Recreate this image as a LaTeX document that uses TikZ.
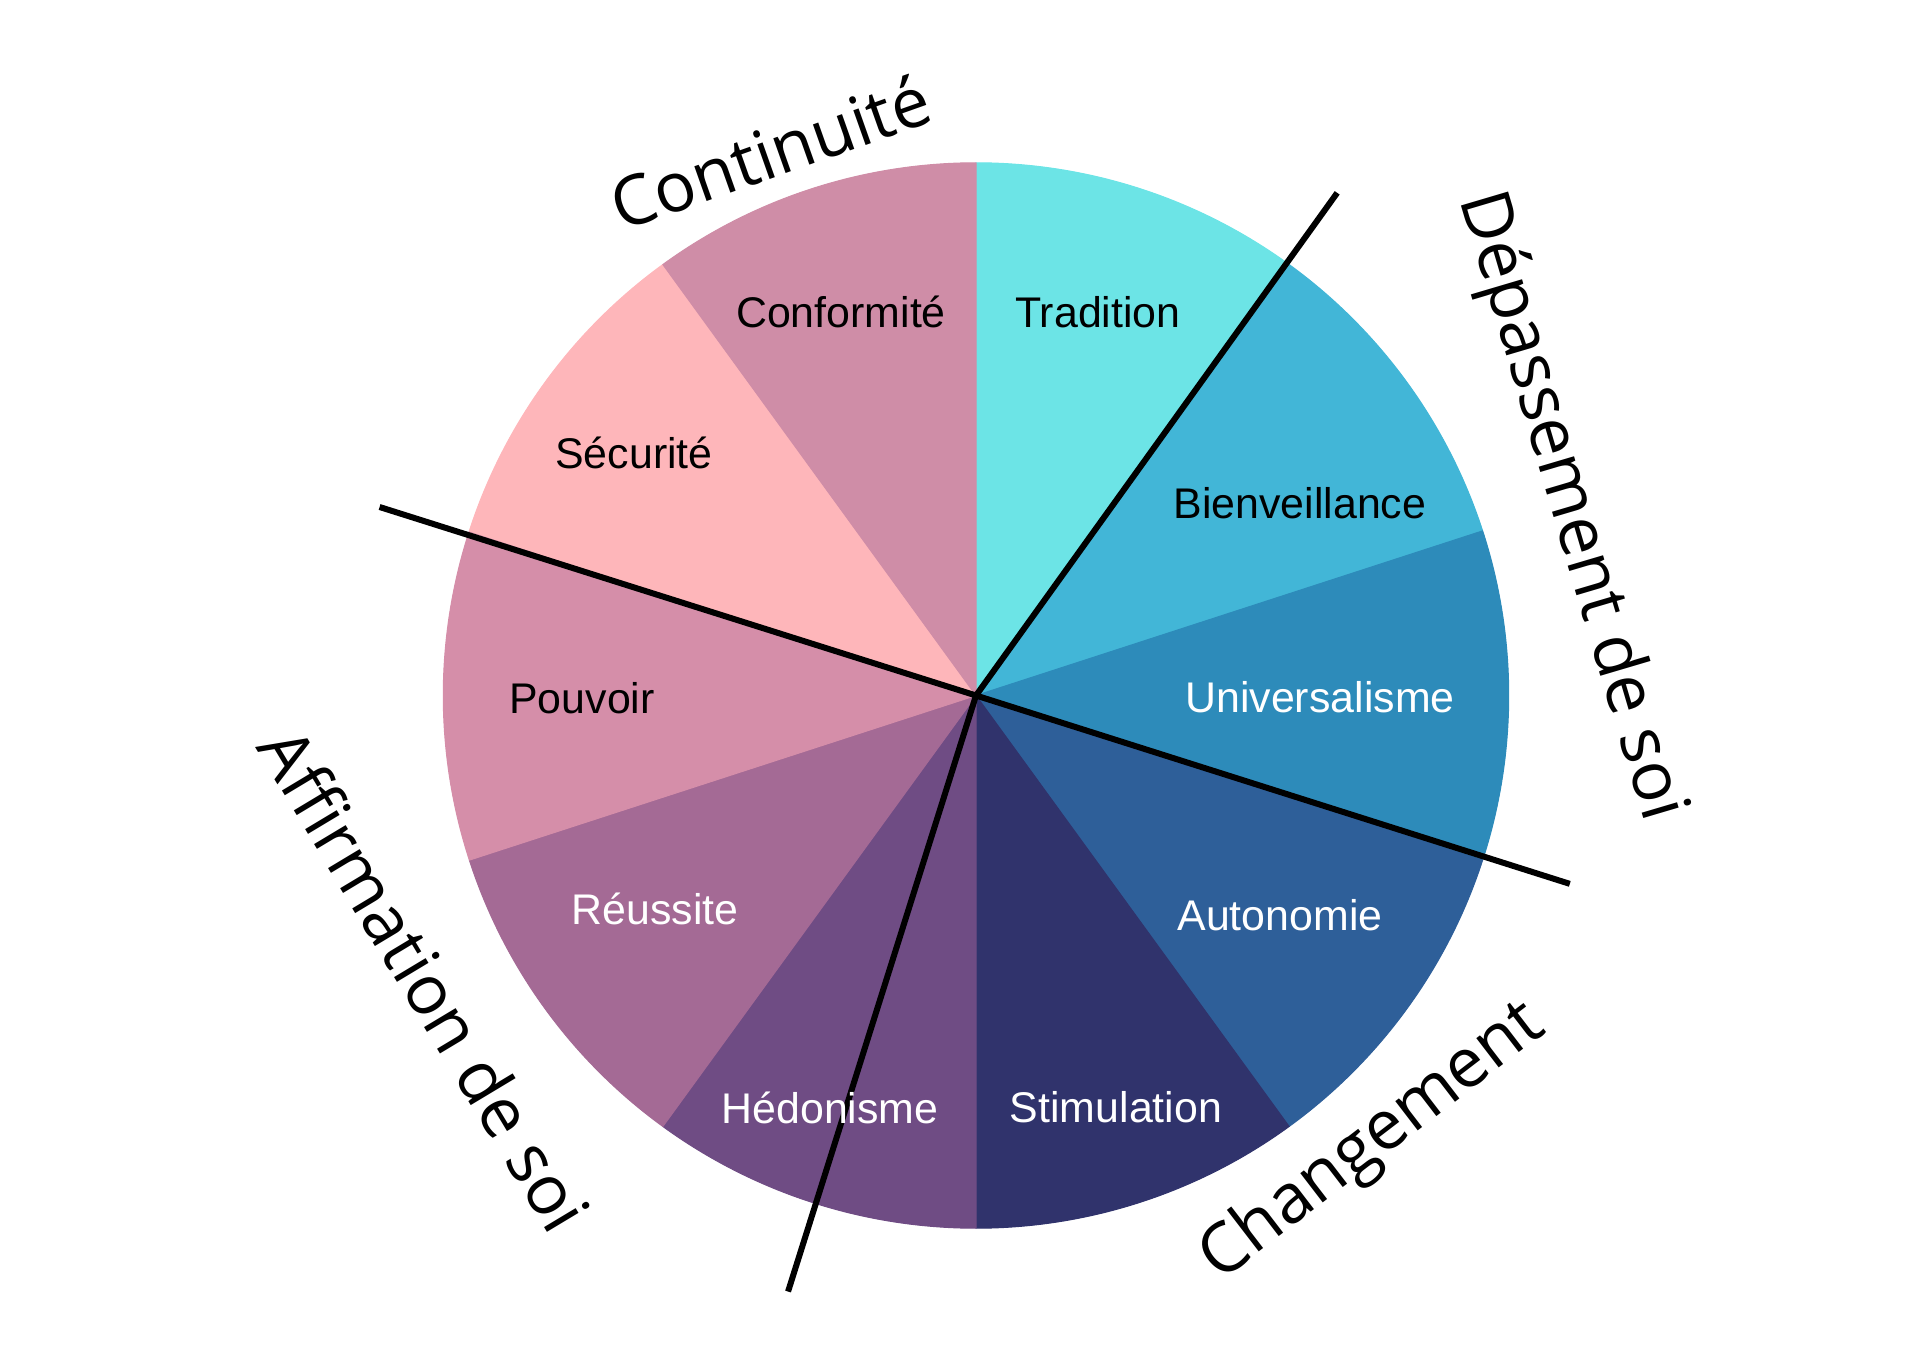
\documentclass[tikz,border=0pt]{standalone}
\usepackage{fontspec}
\setmainfont{Liberation Sans}
\newfontfamily\opensans{Open Sans}
\definecolor{ctrad}{HTML}{6CE4E6}
\definecolor{cbien}{HTML}{42B6D7}
\definecolor{cuniv}{HTML}{2D8BBA}
\definecolor{cauto}{HTML}{2E5F99}
\definecolor{cstim}{HTML}{30336C}
\definecolor{chedo}{HTML}{6F4C84}
\definecolor{creus}{HTML}{A46A95}
\definecolor{cpouv}{HTML}{D58EA9}
\definecolor{csecu}{HTML}{FEB6BA}
\definecolor{cconf}{HTML}{CF8DA7}
\begin{document}
\begin{tikzpicture}[
  lbl/.style={font=\fontsize{12.2}{14}\selectfont, anchor=base, inner sep=0pt},
  outerlbl/.style={font=\opensans\fontsize{19.6}{24}\selectfont, text=black, inner sep=0pt},
  divider/.style={line width=0.06cm, black}
]
\useasboundingbox (-9.76,-6.615) rectangle (9.44,6.955);
\def\R{5.327cm}
\foreach \a/\b/\c in {54/90/ctrad, 18/54/cbien, -18/18/cuniv, -54/-18/cauto, -90/-54/cstim, -126/-90/chedo, -162/-126/creus, 162/198/cpouv, 126/162/csecu, 90/126/cconf}
  \filldraw[fill=\c, draw=\c, line width=0.3pt, line join=round] (0,0) -- (\a:\R) arc[start angle=\a, end angle=\b, radius=\R] -- cycle;

\coordinate (O) at (0,0);
\coordinate (eW) at (162.46:6.255);
\coordinate (eE) at (-17.6:6.23);
\coordinate (eNE) at (54.3:6.19);
\coordinate (eS) at (252.5:6.25);
\draw[divider] (eW) -- (O) -- (eE);
\draw[divider] (eNE) -- (O) -- (eS);

\node[lbl, text=black] (conf) at (-1.35,3.68) {Conformité};
\node[lbl, text=black] (trad) at (1.22,3.68) {Tradition};
\node[lbl, text=black] (secu) at (-3.42,2.27) {Sécurité};
\node[lbl, text=black] (bien) at (3.24,1.77) {Bienveillance};
\node[lbl, text=black] (pouv) at (-3.94,-0.18) {Pouvoir};
\node[lbl, text=white] (univ) at (3.44,-0.17) {Universalisme};
\node[lbl, text=white] (reus) at (-3.21,-2.29) {Réussite};
\node[lbl, text=white] (auto) at (3.04,-2.35) {Autonomie};
\node[lbl, text=white] (hedo) at (-1.46,-4.28) {Hédonisme};
\node[lbl, text=white] (stim) at (1.40,-4.27) {Stimulation};

\node[outerlbl, rotate=19.5] (cont) at (-2.06,5.44) {Continuité};
\node[outerlbl, rotate=-73.5, anchor=base] (depa) at (5.765,1.838) {Dépassement de soi};
\node[outerlbl, rotate=37.5] (chan) at (3.97,-4.47) {Changement};
\node[outerlbl, rotate=-59, anchor=base] (affi) at (-5.727,-2.97) {Affirmation de soi};
\end{tikzpicture}
\end{document}
